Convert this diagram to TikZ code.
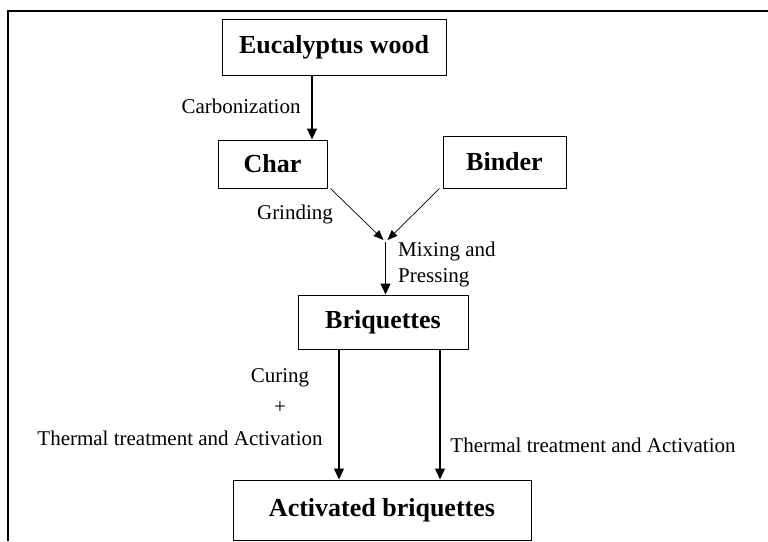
\documentclass[tikz,border=0pt]{standalone}
\usepackage{fontspec}
\setmainfont{Liberation Serif}
\usetikzlibrary{arrows.meta,calc}
\begin{document}
\begin{tikzpicture}[x=1pt,y=-1pt,
  box/.style={draw, line width=1pt, inner sep=0pt, font=\fontsize{26}{30}\selectfont\bfseries},
  lbl/.style={inner sep=0pt, font=\fontsize{21}{26}\selectfont},
  arr/.style={draw, line width=1.1pt, -{Triangle[length=11pt,width=10pt]}},
  thin/.style={draw, line width=0.7pt, -{Triangle[length=10pt,width=8pt]}}]
\useasboundingbox (0,0) rectangle (768,541);
\draw[line width=1.6pt] (8,541) -- (8,11) -- (768,11);
\node[box, minimum width=224pt, minimum height=56pt] (euc) at (334,47) {Eucalyptus wood};
\node[box, minimum width=109pt, minimum height=48pt] (char) at (272.5,164) {Char};
\node[box, minimum width=123pt, minimum height=52pt] (binder) at (504.5,162) {Binder};
\node[box, minimum width=170pt, minimum height=54pt] (briq) at (383,322) {Briquettes};
\node[box, minimum width=298pt, minimum height=60pt] (act) at (382,510) {Activated briquettes};
\coordinate (mL) at (383.5,240);
\coordinate (mR) at (387.5,240);
\coordinate (m) at (385.5,242);
\draw[arr] (euc.south -| 312,0) -- (char.north -| 312,0);
\draw[thin] ([xshift=3pt]char.south east) -- (mL);
\draw[thin] ([xshift=-3pt]binder.south west) -- (mR);
\draw[arr] (m) -- (briq.north -| m);
\draw[arr] ([xshift=-44pt]briq.south) -- ([xshift=-44pt]briq.south |- act.north);
\draw[arr] ([xshift=57pt]briq.south) -- ([xshift=57pt]briq.south |- act.north);
\node[lbl] (carb) at (241,106) {Carbonization};
\node[lbl] (grind) at (295,214) {Grinding};
\node[lbl, align=left, anchor=west] (mix) at (398,264) {Mixing and\\Pressing};
\node[lbl] (cur) at (280,378) {Curing};
\node[lbl] (plus) at (280,408) {+};
\node[lbl] (therm1) at (180,438) {Thermal treatment and Activation};
\node[lbl] (therm2) at (593,445) {Thermal treatment and Activation};
\end{tikzpicture}
\end{document}
